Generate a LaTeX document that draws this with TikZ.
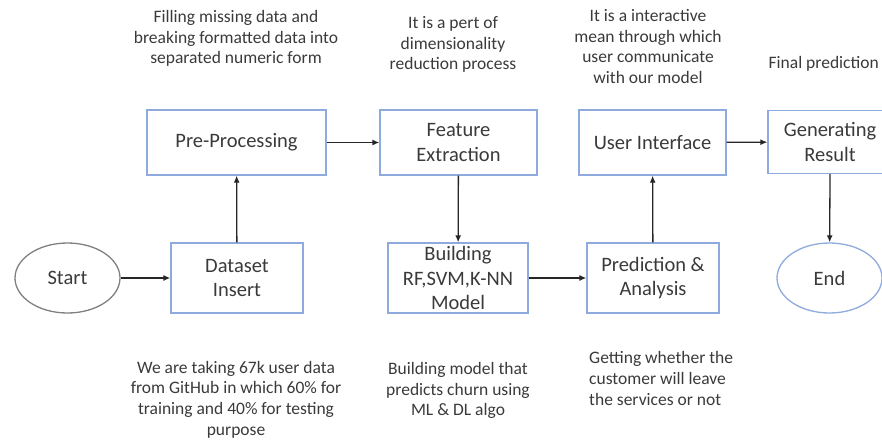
\documentclass[tikz,border=0pt]{standalone}
\usepackage{fontspec}
\setmainfont{Carlito}
\usepackage{tikz}
\usetikzlibrary{arrows.meta,positioning,shapes.geometric}
\usepackage{xcolor}
\definecolor{boxblue}{HTML}{8FAADC}
\definecolor{txtgray}{HTML}{3A3A3A}
\tikzset{
  box/.style={draw=boxblue, line width=1.3pt, align=center, inner sep=2pt, text=txtgray, font=\fontsize{20.5}{24.5}\selectfont},
  oval/.style={ellipse, line width=1.3pt, minimum width=105pt, minimum height=70pt, inner sep=0pt, text=txtgray, font=\fontsize{20.5}{24.5}\selectfont},
  note/.style={align=center, text=txtgray, inner sep=0pt, font=\fontsize{17.5}{20.6}\selectfont},
  arrow/.style={-{Latex[length=7pt,width=6pt]}, line width=1.3pt, draw=black!85}
}

\begin{document}
\begin{tikzpicture}[x=1pt,y=-1pt]
\useasboundingbox (0,0) rectangle (882,439);
\clip (0,0) rectangle (882,439);
% flow boxes
\node[oval, draw=black!50] (start) at (67.5,278) {Start};
\node[box, minimum width=132pt, minimum height=70pt] (data) at (237,278) {Dataset\\Insert};
\node[box, minimum width=179pt, minimum height=65pt] (prep) at (236.5,142.5) {Pre-Processing};
\node[box, minimum width=157pt, minimum height=65pt] (feat) at (458.5,142.5) {Feature\\Extraction};
\node[box, minimum width=140pt, minimum height=70pt] (model) at (458,278) {Building\\RF,SVM,K-NN\\Model};
\node[box, minimum width=132pt, minimum height=70pt] (pred) at (653,278) {Prediction \&\\Analysis};
\node[box, minimum width=147pt, minimum height=65pt] (ui) at (652.5,142.5) {User Interface};
\node[box, minimum width=124pt, minimum height=63pt] (res) at (830,142) {Generating\\Result};
\node[oval, draw=boxblue] (stop) at (829.5,278) {End};
% notes
\node[note] (n1) at (236,38.5) {Filling missing data and\\breaking formatted data into\\separated numeric form};
\node[note] (n2) at (453,44.5) {It is a pert of\\dimensionality\\reduction process};
\node[note] (n3) at (648,46.5) {It is a interactive\\mean through which\\user communicate\\with our model};
\node[note, anchor=east] (n4) at (879,64) {Final prediction};
\node[note] (n5) at (236,399.5) {We are taking 67k user data\\from GitHub in which 60\% for\\training and 40\% for testing\\purpose};
\node[note] (n6) at (458,390.5) {Building model that\\predicts churn using\\ML \& DL algo};
\node[note, align=left, anchor=west] (n7) at (589,378.5) {Getting whether the\\customer will leave\\the services or not};
% connectors
\draw[arrow] (start) -- (data);
\draw[arrow] (data) -- (prep);
\draw[arrow] (prep) -- (feat);
\draw[arrow] (feat) -- (model);
\draw[arrow] (model) -- (pred);
\draw[arrow] (pred) -- (ui);
\draw[arrow] (ui) -- (res);
\draw[arrow] (res.south) -- (stop);
\end{tikzpicture}
\end{document}
